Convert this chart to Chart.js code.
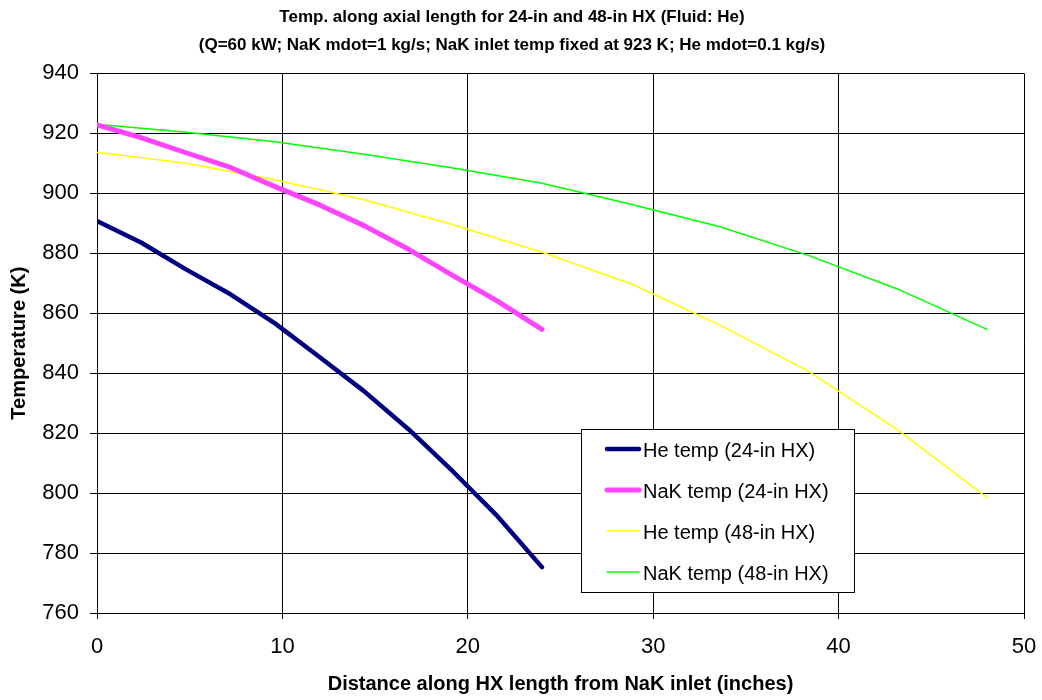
<!DOCTYPE html>
<html>
<head>
<meta charset="utf-8">
<script src="https://cdn.jsdelivr.net/npm/chart.js@4/dist/chart.umd.min.js"></script>
<style>
  html, body { margin: 0; padding: 0; background: #fff; }
  #wrap { width: 1042px; height: 700px; position: relative; }
</style>
</head>
<body>
<div id="wrap"><canvas id="c" width="1042" height="700"></canvas></div>
<script>
// Axial positions (inches from NaK inlet)
const xs24 = [0, 2.4, 4.8, 7.2, 9.6, 12, 14.4, 16.8, 19.2, 21.6, 24];
const xs48 = [0, 4.8, 9.6, 14.4, 19.2, 24, 28.8, 33.6, 38.4, 43.2, 48];

// Temperatures (K)
const heTemp24  = [890.7, 883.5, 874.6, 866.3, 856.6, 845.4, 834.0, 821.3, 807.2, 792.3, 775.3];
const nakTemp24 = [922.8, 918.5, 913.5, 908.6, 902.2, 896.1, 889.2, 881.3, 872.5, 864.0, 854.6];
const heTemp48  = [913.7, 910.0, 904.5, 897.8, 889.5, 880.3, 869.8, 856.0, 840.5, 821.0, 798.5];
const nakTemp48 = [923.0, 920.3, 917.2, 913.0, 908.4, 903.3, 896.3, 888.8, 879.2, 868.0, 854.6];

const seriesLabels = ['He temp (24-in HX)', 'NaK temp (24-in HX)', 'He temp (48-in HX)', 'NaK temp (48-in HX)'];
const titleLines = [
  'Temp. along axial length for 24-in and 48-in HX (Fluid: He)',
  '(Q=60 kW; NaK mdot=1 kg/s; NaK inlet temp fixed at 923 K; He mdot=0.1 kg/s)'
];
const xTitle = 'Distance along HX length from NaK inlet (inches)';
const yTitle = 'Temperature (K)';

const SANS = '"Liberation Sans", Arial, sans-serif';
const pts = (xs, ys) => xs.map((x, i) => ({ x: x, y: ys[i] }));

// Legend box drawn inside the plot area
const boxLegend = {
  id: 'boxLegend',
  afterDraw(chart) {
    const ctx = chart.ctx;
    const a = chart.chartArea;
    const bx = Math.round(a.left + 484), by = Math.round(a.top + 356), bw = 273, bh = 163;
    ctx.save();
    ctx.fillStyle = '#fff';
    ctx.fillRect(bx, by, bw, bh);
    ctx.strokeStyle = '#000';
    ctx.lineWidth = 1;
    ctx.strokeRect(bx + 0.5, by + 0.5, bw, bh);
    ctx.font = '20px ' + SANS;
    ctx.textBaseline = 'middle';
    chart.data.datasets.forEach((ds, i) => {
      const cy = by + 20 + i * 41;
      ctx.strokeStyle = ds.borderColor;
      ctx.lineWidth = ds.borderWidth;
      ctx.lineCap = 'round';
      ctx.beginPath();
      ctx.moveTo(bx + 26, cy);
      ctx.lineTo(bx + 58, cy);
      ctx.stroke();
      ctx.fillStyle = '#000';
      ctx.fillText(ds.label, bx + 62, cy + 2);
    });
    ctx.restore();
  }
};

new Chart(document.getElementById('c'), {
  type: 'line',
  data: {
    datasets: [
      { label: seriesLabels[0], data: pts(xs24, heTemp24),  borderColor: '#000080', borderWidth: 4.5 },
      { label: seriesLabels[1], data: pts(xs24, nakTemp24), borderColor: '#FF44FF', borderWidth: 5 },
      { label: seriesLabels[2], data: pts(xs48, heTemp48),  borderColor: '#FFFF00', borderWidth: 1.5 },
      { label: seriesLabels[3], data: pts(xs48, nakTemp48), borderColor: '#00FF00', borderWidth: 1.5 }
    ]
  },
  options: {
    responsive: false,
    animation: false,
    devicePixelRatio: 1,
    layout: { padding: { left: 0, right: 18, top: 0, bottom: 0 } },
    elements: {
      point: { radius: 0 },
      line: { tension: 0, borderCapStyle: 'round', borderJoinStyle: 'round', fill: false }
    },
    plugins: {
      legend: { display: false },
      tooltip: { enabled: false },
      title: {
        display: true,
        text: titleLines,
        color: '#000',
        font: { family: SANS, size: 17, weight: 'bold', lineHeight: 1.647 },
        padding: { top: 3, bottom: 14.3 }
      }
    },
    scales: {
      x: {
        type: 'linear',
        min: 0, max: 50,
        ticks: { stepSize: 10, color: '#000', font: { family: SANS, size: 22 }, padding: 15 },
        grid: { color: '#000', lineWidth: 1, tickLength: 6, drawTicks: true },
        border: { color: '#000', width: 1 },
        title: {
          display: true, text: xTitle, color: '#000',
          font: { family: SANS, size: 20, weight: 'bold' },
          padding: { top: 0, bottom: 4 }
        },
        afterFit(scale) {
          scale.height = 87;
          scale.paddingLeft = 0;
          scale.paddingRight = 0;
        }
      },
      y: {
        min: 760, max: 940,
        ticks: { stepSize: 20, color: '#000', font: { family: SANS, size: 22 }, padding: 11 },
        grid: { color: '#000', lineWidth: 1, tickLength: 7, drawTicks: true },
        border: { color: '#000', width: 1 },
        title: {
          display: true, text: yTitle, color: '#000',
          font: { family: SANS, size: 20, weight: 'bold' },
          padding: { top: 7, bottom: 0 }
        },
        afterFit(scale) { scale.width = 97; }
      }
    }
  },
  plugins: [boxLegend]
});
</script>
</body>
</html>
